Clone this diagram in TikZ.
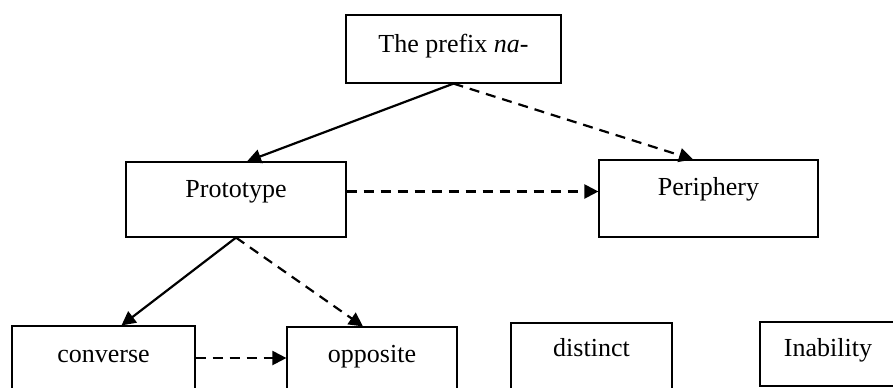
\documentclass[tikz,border=0pt]{standalone}
\usepackage{fontspec}
\setmainfont{Liberation Serif}
\usetikzlibrary{arrows.meta, positioning, calc}

\begin{document}
\begin{tikzpicture}[
    x = 0.5pt, y = -0.5pt,
    box/.style  = {draw = black, line width = 0.6pt, inner sep = 0pt,
                   anchor = base, font = \fontsize{13}{15}\selectfont},
    arr/.style  = {-{Triangle[length=7pt, width=7pt]}, line width = 1.1pt},
    darr/.style = {arr, dash pattern = on 5pt off 3.5pt},
  ]
    \clip (0,0) rectangle (893,387);

    %% ── Top level ────────────────────────────────────────────────
    \node[box, minimum width = 107.5pt, text height = 18.5pt, text depth = 15.5pt]
      (prefix) at (453.5,52) {The prefix \textit{na}-};

    %% ── Second level ─────────────────────────────────────────────
    \node[box, minimum width = 110pt, text height = 17.5pt, text depth = 20pt]
      (proto) at (236,197) {Prototype};
    \node[box, minimum width = 109.5pt, text height = 17.5pt, text depth = 21pt]
      (peri) at (708.5,195) {Periphery};

    %% ── Bottom row ───────────────────────────────────────────────
    \node[box, minimum width = 91.5pt, text height = 18pt, text depth = 14pt]
      (conv) at (103.5,362) {converse};
    \node[box, minimum width = 85pt, text height = 17.5pt, text depth = 14pt]
      (opp) at (372,362) {opposite};
    \node[box, minimum width = 80.5pt, text height = 16.5pt, text depth = 17pt]
      (dist) at (591.5,356) {distinct};
    \node[box, minimum width = 68pt, text height = 17pt, text depth = 15pt]
      (inab) at (828,356) {Inability};

    %% ── Arrows ───────────────────────────────────────────────────
    \draw[arr]  (prefix.south) -- ([xshift=5.5pt]proto.north);
    \draw[darr] (prefix.south) -- ([xshift=-7.75pt]peri.north);
    \draw[darr] ([yshift=4pt]proto.east) -- ([yshift=4pt]proto.east -| peri.west);
    \draw[arr]  (proto.south) -- ([xshift=9pt]conv.north);
    \draw[darr] (proto.south) -- ([xshift=-4.5pt]opp.north);
    \draw[darr] (conv.east) -- (conv.east -| opp.west);
  \end{tikzpicture}
\end{document}
